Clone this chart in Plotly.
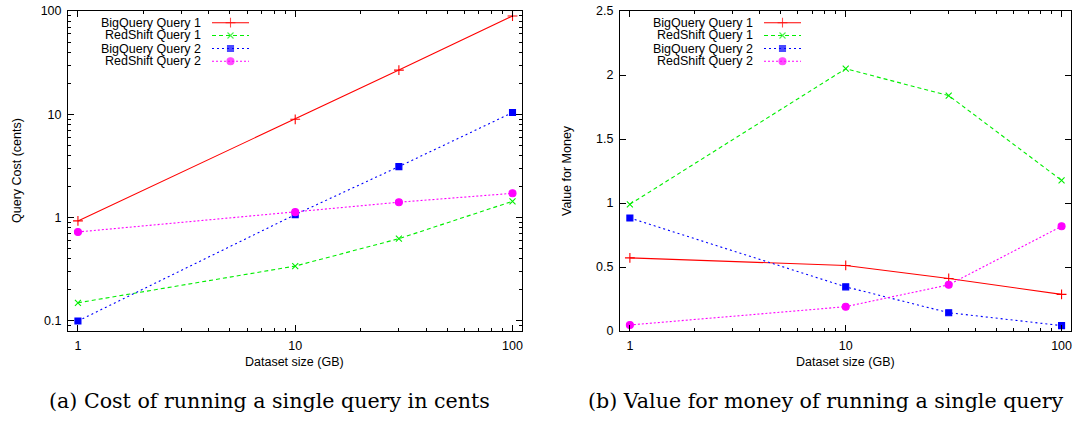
import plotly.graph_objects as go
import math

# ---------------- data ----------------
sizes_gb = [1, 10, 30, 100]
series_names = ["BigQuery Query 1", "RedShift Query 1", "BigQuery Query 2", "RedShift Query 2"]

cost_bq_q1 = [0.93, 8.95, 26.8, 89.5]
cost_rs_q1 = [0.150, 0.340, 0.626, 1.44]
cost_bq_q2 = [0.10, 1.07, 3.12, 10.4]
cost_rs_q2 = [0.727, 1.13, 1.41, 1.72]

vfm_bq_q1 = [0.571, 0.512, 0.410, 0.286]
vfm_rs_q1 = [0.99, 2.049, 1.839, 1.177]
vfm_bq_q2 = [0.883, 0.345, 0.143, 0.042]
vfm_rs_q2 = [0.047, 0.190, 0.361, 0.818]

log_ticks = [0.1, 1, 10, 100]
log_tick_text = ["0.1", "1", "10", "100"]
x_ticks = [1, 10, 100]
x_tick_text = ["1", "10", "100"]
vfm_ticks = [0, 0.5, 1, 1.5, 2, 2.5]
vfm_tick_text = ["0", "0.5", "1", "1.5", "2", "2.5"]

caption_a = "(a) Cost of running a single query in cents"
caption_b = "(b) Value for money of running a single query"

# ---------------- styles ----------------
W, H = 1079, 421
FONT = "Liberation Sans, Arial, Helvetica, sans-serif"
SERIF = "DejaVu Serif, serif"
styles = [
    dict(color="#ff0000", dash="solid", symbol="cross-thin-open", size=7),
    dict(color="#00ee00", dash="4px,3px", symbol="x-thin-open", size=6),
    dict(color="#0000ff", dash="2px,3px", symbol="square", size=6),
    dict(color="#ff00ff", dash="2px,2px", symbol="circle", size=7),
]

def px_x(p):
    return p / W

def px_y(p):
    return 1 - p / H

# plot frames in pixels
L1, R1 = 68, 521.5
L2, R2 = 620, 1070.5
TOP, BOT = 11, 331

fig = go.Figure()

cost_sets = [cost_bq_q1, cost_rs_q1, cost_bq_q2, cost_rs_q2]
vfm_sets = [vfm_bq_q1, vfm_rs_q1, vfm_bq_q2, vfm_rs_q2]

for xa, ya, sets in (("x", "y", cost_sets), ("x2", "y2", vfm_sets)):
    for name, vals, st in zip(series_names, sets, styles):
        fig.add_trace(go.Scatter(
            x=sizes_gb, y=vals, mode="lines+markers", name=name, showlegend=False,
            line=dict(color=st["color"], dash=st["dash"], width=1.1),
            marker=dict(symbol=st["symbol"], size=st["size"], color=st["color"],
                        line=dict(color=st["color"], width=1.1)),
            xaxis=xa, yaxis=ya))

# custom gnuplot-style legends (text left, sample right) on an overlay pixel axis
rows_y = [22.7, 35.5, 48.5, 61.2]
annotations = []
for frame_left in (L1, L2):
    text_right = frame_left + 135
    s0, s1 = frame_left + 144, frame_left + 181
    for name, st, ry in zip(series_names, styles, rows_y):
        annotations.append(dict(
            x=px_x(text_right), y=px_y(ry), xref="paper", yref="paper",
            text=name, showarrow=False, xanchor="right", yanchor="middle",
            font=dict(family=FONT, size=12.5, color="black")))
        fig.add_trace(go.Scatter(
            x=[s0, (s0 + s1) / 2, s1], y=[ry, ry, ry], mode="lines+markers",
            showlegend=False, hoverinfo="skip",
            line=dict(color=st["color"], dash=st["dash"], width=1.1),
            marker=dict(symbol=st["symbol"], size=[0, st["size"], 0], color=st["color"],
                        line=dict(color=st["color"], width=1.1)),
            xaxis="x3", yaxis="y3"))

def label(x, y, text, font, angle=0):
    return dict(x=px_x(x), y=px_y(y), xref="paper", yref="paper", text=text,
                showarrow=False, xanchor="center", yanchor="middle",
                textangle=angle, font=font)

axis_font = dict(family=FONT, size=12.5, color="black")
cap_font = dict(family=SERIF, size=20.6, color="black")
annotations += [
    label((L1 + R1) / 2, 362, "Dataset size (GB)", axis_font),
    label((L2 + R2) / 2, 362, "Dataset size (GB)", axis_font),
    label(17, 171, "Query Cost (cents)", axis_font, -90),
    label(567, 171, "Value for Money", axis_font, -90),
    label(269, 401, caption_a, cap_font),
    label(826, 401, caption_b, cap_font),
]

xr = [math.log10(0.9), math.log10(110)]
minor_log = [2, 3, 4, 5, 6, 7, 8, 9, 20, 30, 40, 50, 60, 70, 80, 90]
minor_log_y = [0.09, 0.2, 0.3, 0.4, 0.5, 0.6, 0.7, 0.8, 0.9, 2, 3, 4, 5, 6, 7, 8, 9,
               20, 30, 40, 50, 60, 70, 80, 90]

common = dict(showline=True, linecolor="black", linewidth=1, mirror="allticks",
              ticks="inside", ticklen=6, tickcolor="black", tickwidth=1,
              showgrid=False, zeroline=False, automargin=False,
              ticklabelstandoff=3,
              tickfont=dict(family=FONT, size=12.5, color="black"))
minor_common = dict(tickmode="array", ticks="inside", ticklen=3,
                    tickcolor="black", showgrid=False)

fig.update_layout(
    width=W, height=H,
    margin=dict(l=0, r=0, t=0, b=0, autoexpand=False),
    paper_bgcolor="white", plot_bgcolor="rgba(0,0,0,0)",
    showlegend=False,
    xaxis=dict(type="log", range=xr, domain=[px_x(L1), px_x(R1)], anchor="y",
               tickmode="array", tickvals=x_ticks, ticktext=x_tick_text,
               minor=dict(tickvals=minor_log, **minor_common), **common),
    yaxis=dict(type="log", range=[math.log10(0.08), 2], domain=[px_y(BOT), px_y(TOP)],
               anchor="x", tickmode="array", tickvals=log_ticks, ticktext=log_tick_text,
               minor=dict(tickvals=minor_log_y, **minor_common), **common),
    xaxis2=dict(type="log", range=xr, domain=[px_x(L2), px_x(R2)], anchor="y2",
                tickmode="array", tickvals=x_ticks, ticktext=x_tick_text,
                minor=dict(tickvals=minor_log, **minor_common), **common),
    yaxis2=dict(range=[0, 2.5], domain=[px_y(BOT), px_y(TOP)], anchor="x2",
                tickmode="array", tickvals=vfm_ticks, ticktext=vfm_tick_text,
                **common),
    xaxis3=dict(range=[0, W], domain=[0, 1], anchor="y3", visible=False,
                fixedrange=True, automargin=False),
    yaxis3=dict(range=[H, 0], domain=[0, 1], anchor="x3", visible=False,
                fixedrange=True, automargin=False),
    annotations=annotations,
)

fig.write_html("out.html")
